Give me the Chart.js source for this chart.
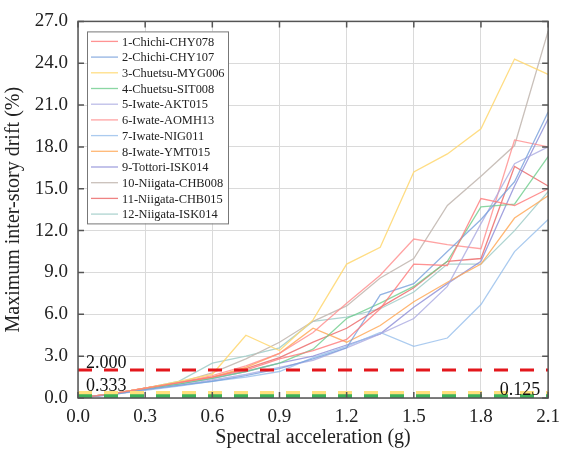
<!DOCTYPE html>
<html>
<head>
<meta charset="utf-8">
<script src="https://cdn.jsdelivr.net/npm/chart.js@4/dist/chart.umd.min.js"></script>
<style>
  html, body { margin: 0; padding: 0; background: #fff; }
  #wrap { width: 568px; height: 450px; }
</style>
</head>
<body>
<div id="wrap"><canvas id="drift-chart" width="568" height="450"></canvas></div>
<script>
// spectral acceleration steps (g)
var sa = [0, 0.15, 0.3, 0.45, 0.6, 0.75, 0.9, 1.05, 1.2, 1.35, 1.5, 1.65, 1.8, 1.95, 2.1];
var xTicks = [0, 0.3, 0.6, 0.9, 1.2, 1.5, 1.8, 2.1];
var yTicks = [0, 3, 6, 9, 12, 15, 18, 21, 24, 27];

var records = ["1-Chichi-CHY078", "2-Chichi-CHY107", "3-Chuetsu-MYG006", "4-Chuetsu-SIT008",
               "5-Iwate-AKT015", "6-Iwate-AOMH13", "7-Iwate-NIG011", "8-Iwate-YMT015",
               "9-Tottori-ISK014", "10-Niigata-CHB008", "11-Niigata-CHB015", "12-Niigata-ISK014"];

// max inter-story drift (%) per record
var chy078 = [0, 0.3, 0.7, 1.1, 1.5, 2.0, 2.8, 3.4, 4.2, 6.4, 9.6, 9.5, 14.3, 13.8, 15.0];
var chy107 = [0, 0.25, 0.6, 0.9, 1.2, 1.6, 2.1, 2.8, 3.6, 7.4, 8.2, 10.5, 12.8, 15.5, 20.5];
var myg006 = [0, 0.3, 0.7, 1.2, 1.7, 4.5, 3.4, 5.6, 9.6, 10.8, 16.2, 17.5, 19.3, 24.3, 23.2];
var sit008 = [0, 0.28, 0.65, 1.0, 1.4, 1.9, 2.5, 3.5, 5.7, 6.8, 8.0, 9.8, 13.7, 13.9, 17.3];
var akt015 = [0, 0.25, 0.6, 0.9, 1.3, 1.7, 2.2, 2.7, 3.6, 4.6, 5.7, 8.0, 12.5, 16.8, 18.0];
var aomh13 = [0, 0.3, 0.7, 1.1, 1.6, 2.3, 3.2, 4.7, 6.8, 8.8, 11.4, 11.0, 10.7, 18.5, 18.0];
var nig011 = [0, 0.25, 0.55, 0.85, 1.2, 1.5, 1.9, 2.9, 3.7, 4.7, 3.7, 4.3, 6.7, 10.5, 12.8];
var ymt015 = [0, 0.3, 0.7, 1.1, 1.5, 2.2, 3.2, 5.0, 4.0, 5.2, 6.9, 8.3, 9.6, 12.9, 14.5];
var isk014t = [0, 0.28, 0.65, 1.0, 1.4, 1.9, 2.5, 3.0, 3.8, 4.6, 6.5, 8.2, 9.8, 15.2, 20.0];
var chb008 = [0, 0.3, 0.7, 1.1, 1.8, 2.8, 4.0, 5.5, 6.6, 8.6, 10.0, 13.8, 15.9, 18.1, 26.3];
var chb015 = [0, 0.3, 0.7, 1.1, 1.5, 2.1, 2.9, 4.0, 5.0, 6.5, 7.9, 9.8, 10.0, 16.6, 15.2];
var isk014n = [0, 0.3, 0.7, 1.2, 2.5, 3.0, 3.6, 5.5, 5.8, 6.4, 7.6, 9.6, 9.6, 12.0, 14.8];
var drifts = [chy078, chy107, myg006, sit008, akt015, aomh13, nig011, ymt015, isk014t, chb008, chb015, isk014n];

// limit lines
var limitVals = [2.0, 0.333, 0.125];
var limitLabels = ["2.000", "0.333", "0.125"];

var colors = ["rgba(255,120,120,0.8)", "rgba(120,160,220,0.8)", "rgba(255,215,110,0.85)", "rgba(110,205,140,0.8)",
              "rgba(170,170,225,0.8)", "rgba(255,140,140,0.8)", "rgba(150,190,235,0.8)", "rgba(255,170,90,0.85)",
              "rgba(140,140,215,0.8)", "rgba(195,185,178,0.9)", "rgba(235,100,100,0.8)", "rgba(160,205,200,0.85)"];
var limitColors = ["#e3171c", "#ffe07c", "#3db35a"];
var limitWidths = [3, 4.5, 4];

var serif = "'Liberation Serif', 'DejaVu Serif', serif";

var datasets = [];
records.forEach(function (name, i) {
    datasets.push({
        label: name,
        data: sa.map(function (x, j) { return { x: x, y: drifts[i][j] }; }),
        borderColor: colors[i],
        backgroundColor: colors[i],
        borderWidth: 1.3,
        pointRadius: 0,
        tension: 0,
        fill: false
    });
});
limitVals.forEach(function (v, i) {
    datasets.push({
        label: "limit " + limitLabels[i],
        data: [{ x: 0, y: v }, { x: 2.1, y: v }],
        borderColor: limitColors[i],
        borderWidth: limitWidths[i],
        borderDash: [14, 12],
        pointRadius: 0,
        order: i == 0 ? -3 : (i == 1 ? -1 : -2)
    });
});

// frame with inward ticks on all four sides
var framePlugin = {
    id: 'frame',
    afterDraw: function (chart) {
        var ctx = chart.ctx, a = chart.chartArea, x = chart.scales.x, y = chart.scales.y;
        ctx.save();
        ctx.strokeStyle = '#555';
        ctx.lineWidth = 1.5;
        ctx.strokeRect(a.left, a.top, a.right - a.left, a.bottom - a.top);
        ctx.beginPath();
        xTicks.forEach(function (v) {
            var px = x.getPixelForValue(v);
            ctx.moveTo(px, a.bottom); ctx.lineTo(px, a.bottom - 6);
            ctx.moveTo(px, a.top); ctx.lineTo(px, a.top + 6);
        });
        yTicks.forEach(function (v) {
            var py = y.getPixelForValue(v);
            ctx.moveTo(a.left, py); ctx.lineTo(a.left + 6, py);
            ctx.moveTo(a.right, py); ctx.lineTo(a.right - 6, py);
        });
        ctx.stroke();
        ctx.restore();
    }
};

// limit labels + boxed legend
var labelPlugin = {
    id: 'labels',
    afterDatasetsDraw: function (chart) {
        var ctx = chart.ctx, a = chart.chartArea, y = chart.scales.y;
        ctx.save();
        ctx.fillStyle = '#111';
        ctx.font = "18px " + serif;
        ctx.textBaseline = 'alphabetic';
        ctx.textAlign = 'left';
        ctx.fillText(limitLabels[0], a.left + 8, y.getPixelForValue(limitVals[0]) - 2);
        ctx.fillText(limitLabels[1], a.left + 8, y.getPixelForValue(limitVals[1]) - 2);
        ctx.textAlign = 'right';
        ctx.fillText(limitLabels[2], a.right - 8, y.getPixelForValue(limitVals[2]) - 1);

        // legend
        var lx = a.left + 9, ly = a.top + 10, lw = 141, lh = 192;
        ctx.fillStyle = '#fff';
        ctx.fillRect(lx, ly, lw, lh);
        ctx.strokeStyle = '#777';
        ctx.lineWidth = 1;
        ctx.strokeRect(lx + 0.5, ly + 0.5, lw, lh);
        ctx.font = "12.4px " + serif;
        ctx.textAlign = 'left';
        ctx.textBaseline = 'middle';
        records.forEach(function (name, i) {
            var ry = ly + 10 + i * 15.7;
            ctx.strokeStyle = colors[i];
            ctx.lineWidth = 1.3;
            ctx.beginPath();
            ctx.moveTo(lx + 4, ry); ctx.lineTo(lx + 31, ry);
            ctx.stroke();
            ctx.fillStyle = '#222';
            ctx.fillText(name, lx + 35, ry + 1);
        });
        ctx.restore();
    }
};

new Chart(document.getElementById("drift-chart"), {
    type: 'line',
    data: { datasets: datasets },
    plugins: [labelPlugin, framePlugin],
    options: {
        responsive: false,
        animation: false,
        layout: { padding: { top: 15, right: 15, left: 0, bottom: 0 } },
        plugins: { legend: { display: false }, tooltip: { enabled: false } },
        scales: {
            x: {
                type: 'linear',
                min: 0, max: 2.1,
                afterBuildTicks: function (s) { s.ticks = xTicks.map(function (v) { return { value: v }; }); },
                afterFit: function (s) { s.height = 52; },
                grid: { color: '#dadada', lineWidth: 1, drawTicks: false },
                border: { display: false },
                ticks: {
                    padding: 8,
                    color: '#222',
                    font: { family: serif, size: 19 },
                    callback: function (v) { return v.toFixed(1); }
                },
                title: {
                    display: true,
                    text: 'Spectral acceleration (g)',
                    color: '#222',
                    font: { family: serif, size: 20 },
                    padding: 0
                }
            },
            y: {
                min: 0, max: 27,
                afterBuildTicks: function (s) { s.ticks = yTicks.map(function (v) { return { value: v }; }); },
                afterFit: function (s) { s.width = 78; },
                grid: { color: '#dadada', lineWidth: 1, drawTicks: false },
                border: { display: false },
                ticks: {
                    padding: 10,
                    color: '#222',
                    font: { family: serif, size: 19 },
                    callback: function (v) { return v.toFixed(1); }
                },
                title: {
                    display: true,
                    text: 'Maximum inter-story drift (%)',
                    color: '#222',
                    font: { family: serif, size: 20 },
                    padding: 2
                }
            }
        }
    }
});
</script>
</body>
</html>
